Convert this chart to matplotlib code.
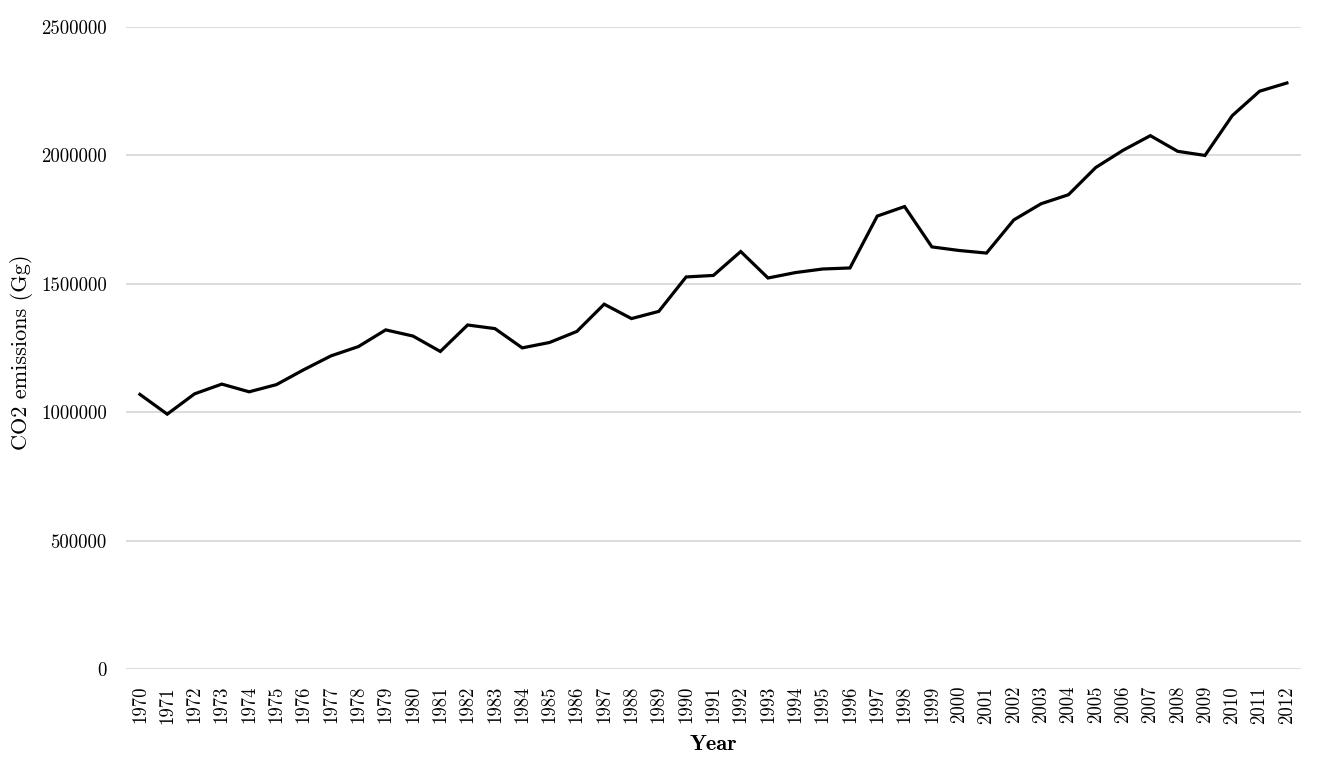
import matplotlib
matplotlib.use('Agg')
import matplotlib.pyplot as plt
import numpy as np

# CO2 emissions by year (Gg)
years = list(range(1970, 2013))
emissions = [1070000, 993000, 1072000, 1110000, 1080000, 1108000, 1166000, 1220000,
             1256000, 1321000, 1297000, 1237000, 1340000, 1326000, 1251000, 1272000,
             1315000, 1421000, 1365000, 1393000, 1527000, 1533000, 1626000, 1523000,
             1544000, 1558000, 1562000, 1764000, 1801000, 1644000, 1630000, 1620000,
             1749000, 1812000, 1847000, 1953000, 2020000, 2077000, 2016000, 2000000,
             2155000, 2250000, 2282000]
y_ticks = [0, 500000, 1000000, 1500000, 2000000, 2500000]

plt.rcParams['font.family'] = ['cmr10', 'DejaVu Serif']
plt.rcParams['axes.formatter.use_mathtext'] = True

fig = plt.figure(figsize=(13.29, 7.75), dpi=100)
ax = fig.add_axes([0.095, 0.1364, 0.8836, 0.8288])

x = np.arange(len(years))
ax.plot(x, emissions, color='black', linewidth=2.3, solid_joinstyle='miter')

ax.set_xlim(-0.5, len(years) - 0.5)
ax.set_ylim(0, 2500000)

ax.set_yticks(y_ticks)
ax.set_yticklabels([str(v) for v in y_ticks])
ax.set_xticks(x)
ax.set_xticklabels([str(y) for y in years], rotation=90)

ax.tick_params(axis='both', length=0, labelsize=13.5)
ax.tick_params(axis='y', pad=14)
ax.tick_params(axis='x', pad=12)

ax.grid(axis='y', color='#d9d9d9', linewidth=1.3)
ax.set_axisbelow(True)
for s in ax.spines.values():
    s.set_visible(False)

ax.set_ylabel('CO2 emissions (Gg)', fontsize=16)
ax.yaxis.set_label_coords(-0.079, 0.493)
ax.set_xlabel('Year', fontsize=16, family='cmb10', labelpad=8)

fig.savefig('out.png', dpi=100)
